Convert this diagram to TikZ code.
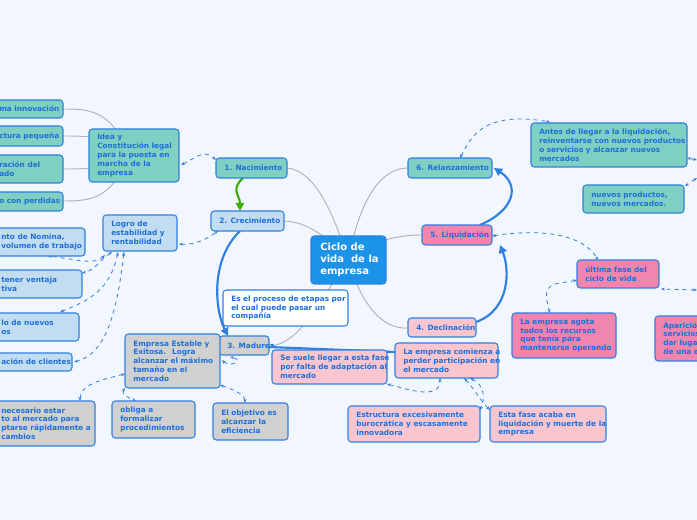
\documentclass[tikz,border=0pt]{standalone}
\usepackage{fontspec}
\setmainfont{DejaVu Sans}
\usetikzlibrary{arrows.meta}
\definecolor{bg}{HTML}{F2F6FE}
\definecolor{tx}{HTML}{1E6FD9}
\definecolor{teal}{HTML}{7FCFC2}
\definecolor{lblue}{HTML}{C2DDF2}
\definecolor{gry}{HTML}{D0D0D0}
\definecolor{lpink}{HTML}{F9C6D0}
\definecolor{pink}{HTML}{F285AD}
\definecolor{ctr}{HTML}{1B93E8}
\definecolor{brd}{HTML}{2F80E0}
\tikzset{
 dsh/.style={draw=brd,dashed,line width=0.6pt,{Stealth[length=3pt]}-{Stealth[length=3pt]}},
 gl/.style={draw=gray!60,line width=0.7pt},
 big/.style={draw=brd,line width=1.6pt,-{Triangle[length=6pt,width=6pt]}}
}
\newcommand{\bb}[8][8]{% offset, name, l,t,r,b, fill, text
 \draw[draw=brd,line width=0.8pt,rounded corners=2.5pt,fill=#7] (#3,#4) rectangle (#5,#6);
 \node[text=tx,font=\bfseries\fontsize{5.5}{6.6}\selectfont,align=left,anchor=west,inner sep=0pt] (#2) at ({#3+#1},{(#4+#6)/2}) {#8};
}
\begin{document}
\begin{tikzpicture}[x=0.75pt,y=-0.75pt]
\fill[bg] (0,0) rectangle (697,520);
\clip (0,0) rectangle (697,520);
\useasboundingbox (0,0) rectangle (697,520);
% gray links
\draw[gl] (348,260) .. controls (330,200) and (310,170) .. (287,168);
\draw[gl] (348,260) .. controls (330,240) and (310,222) .. (284,221);
\draw[gl] (348,260) .. controls (320,300) and (300,345) .. (269,346);
\draw[gl] (348,260) .. controls (360,300) and (380,330) .. (408,328);
\draw[gl] (348,260) .. controls (370,240) and (400,235) .. (422,235);
\draw[gl] (348,260) .. controls (360,200) and (380,168) .. (408,168);
\foreach \y in {109,136,169,201}{\draw[gl] (130,155) .. controls (110,\y) and (90,\y) .. (60,\y);}
% dashed links
\draw[dsh] (181,165) .. controls (200,155) and (205,150) .. (216,160);
\draw[dsh] (179,244) .. controls (195,245) and (205,240) .. (218,231);
\draw[dsh] (105,255) .. controls (95,265) and (80,260) .. (48,256);
\draw[dsh] (112,252) .. controls (100,260) and (95,270) .. (82,273);
\draw[dsh] (118,252) .. controls (110,290) and (90,300) .. (60,312);
\draw[dsh] (124,252) .. controls (115,330) and (100,355) .. (74,362);
\draw[dsh] (125,374) .. controls (100,380) and (80,385) .. (80,401);
\draw[dsh] (125,388) .. controls (120,395) and (130,398) .. (136,401);
\draw[dsh] (220,385) .. controls (235,390) and (245,395) .. (245,403);
\draw[dsh] (222,360) .. controls (230,368) and (245,360) .. (230,357);
\draw[dsh] (387,384) .. controls (410,390) and (440,400) .. (440,378);
\draw[dsh] (464,378) .. controls (475,390) and (480,400) .. (490,410);
\draw[dsh] (470,378) .. controls (485,385) and (485,400) .. (480,410);
\draw[dsh] (492,236) .. controls (530,230) and (580,230) .. (598,260);
\draw[dsh] (577,280) .. controls (555,285) and (540,280) .. (550,313);
\draw[dsh] (697,290) -- (661,289);
\draw[dsh] (460,158) .. controls (470,140) and (480,110) .. (550,122);
\draw[dsh] (697,160) -- (687,158);
\draw[dsh] (697,178) -- (685,186);
% Madurez under gray box
\bb{n3}{219}{336}{269}{355}{gry}{3. Madurez}
% big arrows
\draw[big] (240,231) .. controls (210,260) and (215,310) .. (228,336);
\draw[brd,line width=1.6pt] (269,347) -- (395,352);
\draw[big] (476,322) .. controls (510,310) and (510,270) .. (500,245);
\draw[big] (480,225) .. controls (515,210) and (520,185) .. (494,168);
\draw[draw=green!55!black!70!lime,line width=1.6pt,-{Triangle[length=6pt,width=6pt]}] (243,178) .. controls (230,190) and (240,195) .. (240,211);
% boxes
\bb{c}{311}{236}{386}{284}{ctr}{}
\node[text=white,font=\bfseries\fontsize{7.5}{9}\selectfont,align=left,anchor=north west,inner sep=0pt] at (320,243) {Ciclo de\\vida \ de la\\empresa};
\bb{n1}{216}{158}{287}{178}{teal}{1. Nacimiento}
\bb{n2}{211}{211}{284}{231}{lblue}{2. Crecimiento}
\bb{n4}{408}{318}{476}{337}{lpink}{4. Declinación}
\bb{n5}{422}{225}{492}{245}{pink}{5. Liquidación}
\bb{n6}{408}{158}{492}{178}{teal}{6. Relanzamiento}
\bb{idea}{89}{129}{179}{182}{teal}{Idea y\\Constitución legal\\para la puesta en\\marcha de la\\empresa}
\bb[9]{t1}{-10}{100}{63}{118}{teal}{ma innovación}
\bb[9]{t2}{-10}{126}{63}{146}{teal}{ctura pequeña}
\bb[9]{t3}{-10}{155}{63}{183}{teal}{ración del\\ado}
\bb[9]{t4}{-10}{192}{63}{211}{teal}{o con perdidas}
\bb{logro}{103}{215}{177}{251}{lblue}{Logro de\\estabilidad y\\rentabilidad}
\bb[11]{b1}{-10}{228}{85}{256}{lblue}{nto de Nomina,\\volumen de trabajo}
\bb[11]{b2}{-10}{270}{82}{298}{lblue}{tener ventaja\\tiva}
\bb[11]{b3}{-10}{313}{79}{341}{lblue}{lo de nuevos\\os}
\bb[11]{b4}{-10}{353}{72}{371}{lblue}{ación de clientes}
\bb{proc}{223}{290}{348}{326}{white}{Es el proceso de etapas por\\el cual puede pasar un\\compañía}
\bb{est}{125}{334}{220}{388}{gry}{Empresa Estable y\\Exitosa. \ Logra\\alcanzar el máximo\\tamaño en el\\mercado}
\bb[11]{g1}{-10}{401}{95}{446}{gry}{necesario estar\\to al mercado para\\ptarse rápidamente a\\cambios}
\bb{g2}{112}{401}{195}{438}{gry}{obliga a\\formalizar\\procedimientos}
\bb{g3}{213}{403}{288}{440}{gry}{El objetivo es\\alcanzar la\\eficiencia}
\bb{suele}{272}{350}{387}{384}{lpink}{Se suele llegar a esta fase\\por falta de adaptación al\\mercado}
\bb{com}{395}{343}{498}{378}{lpink}{La empresa comienza a\\perder participación en\\el mercado}
\bb{estr}{348}{406}{480}{442}{lpink}{Estructura excesivamente\\burocrática y escasamente\\innovadora}
\bb{acaba}{490}{406}{606}{442}{lpink}{Esta fase acaba en\\liquidación y muerte de la\\empresa}
\bb{antes}{531}{123}{687}{167}{teal}{Antes de llegar a la liquidación,\\reinventarse con nuevos productos\\o servicios y alcanzar nuevos\\mercados}
\bb{nuevos}{583}{185}{684}{213}{teal}{nuevos productos,\\nuevos mercados.}
\bb{ult}{577}{260}{659}{288}{pink}{última fase del\\ciclo de vida}
\bb{agota}{512}{313}{616}{358}{pink}{La empresa agota\\todos los recursos\\que tenía para\\mantenerse operando}
\bb{apar}{655}{316}{720}{361}{pink}{Aparición\\servicios\\dar lugar\\de una e}
\end{tikzpicture}
\end{document}
